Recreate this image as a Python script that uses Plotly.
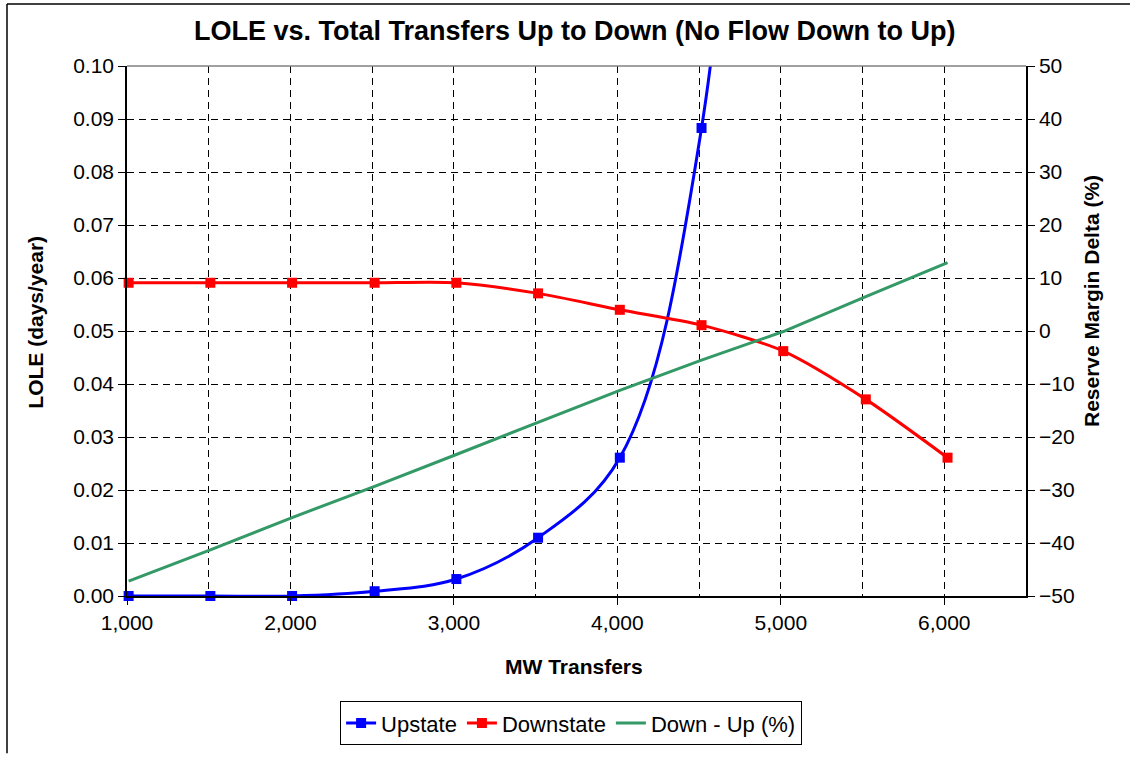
import plotly.graph_objects as go

# ---- data ----
mw_transfers = [1010, 1510, 2010, 2515, 3015, 3515, 4015, 4515, 5015, 5520, 6020]
upstate_mw = [1010, 1510, 2010, 2515, 3015, 3515, 4015, 4515, 5015]
upstate_lole = [0.0000, 0.0000, 0.0000, 0.0009, 0.0032, 0.0110, 0.0261, 0.0883, 0.3000]
downstate_lole = [0.0591, 0.0591, 0.0591, 0.0591, 0.0591, 0.0571, 0.0540, 0.0511, 0.0462, 0.0371, 0.0261]
down_minus_up = [-47.2, -41.3, -35.2, -29.3, -23.3, -17.3, -11.2, -5.5, -0.1, 6.5, 12.9]

x_ticks = [1000, 2000, 3000, 4000, 5000, 6000]
x_tick_text = ["1,000", "2,000", "3,000", "4,000", "5,000", "6,000"]

FONT = "Liberation Sans, Arial, sans-serif"
BLUE = "#0000FF"
RED = "#FF0000"
GREEN = "#339966"

fig = go.Figure()

up_marker_colors = [BLUE] * (len(upstate_mw) - 1) + ["rgba(0,0,0,0)"]
fig.add_trace(go.Scatter(
    x=upstate_mw, y=upstate_lole, name="Upstate",
    mode="lines+markers",
    line=dict(color=BLUE, width=3, shape="spline", smoothing=1.0),
    marker=dict(symbol="square", size=10, color=up_marker_colors),
    cliponaxis=False,
))
fig.add_trace(go.Scatter(
    x=mw_transfers, y=downstate_lole, name="Downstate",
    mode="lines+markers",
    line=dict(color=RED, width=3, shape="spline", smoothing=0.75),
    marker=dict(symbol="square", size=10, color=RED),
    cliponaxis=False,
))
fig.add_trace(go.Scatter(
    x=mw_transfers, y=down_minus_up, name="Down - Up (%)",
    mode="lines", yaxis="y2",
    line=dict(color=GREEN, width=3),
))

grid = dict(showgrid=True, gridcolor="black", gridwidth=1, griddash="7px,5px")

fig.update_layout(
    width=1130, height=757,
    margin=dict(l=127, r=104, t=66, b=152),
    paper_bgcolor="white", plot_bgcolor="white",
    font=dict(family=FONT, size=21, color="black"),
    showlegend=True,
    legend=dict(
        orientation="h", x=0.494, xanchor="center", y=-0.1985, yanchor="top",
        bordercolor="black", borderwidth=1, font=dict(size=22),
        itemsizing="trace", tracegroupgap=0,
    ),
    xaxis=dict(
        range=[1000, 6500], tickvals=x_ticks, ticktext=x_tick_text,
        ticks="outside", ticklen=7, tickcolor="black",
        showline=True, linecolor="black", linewidth=1.5,
        zeroline=False,
        minor=dict(dtick=500, tick0=1000, showgrid=True, gridcolor="black",
                   gridwidth=1, griddash="7px,5px", ticks=""),
        **grid,
    ),
    yaxis=dict(
        range=[0, 0.1], dtick=0.01, tick0=0, tickformat=".2f",
        ticks="outside", ticklen=7, tickcolor="black",
        showline=True, linecolor="black", linewidth=1.5,
        zeroline=False,
        **grid,
    ),
    yaxis2=dict(
        range=[-50, 50], dtick=10, tick0=-50, overlaying="y", side="right",
        ticks="outside", ticklen=7, tickcolor="black",
        showline=True, linecolor="black", linewidth=1.5,
        showgrid=False, zeroline=False,
    ),
    annotations=[
        dict(text="<b>LOLE vs. Total Transfers Up to Down (No Flow Down to Up)</b>",
             xref="paper", yref="paper", x=(574 - 127) / 899, y=(605 - 30) / 539,
             xanchor="center", yanchor="middle", showarrow=False,
             font=dict(size=27, family=FONT)),
        dict(text="<b>MW Transfers</b>",
             xref="paper", yref="paper", x=(574 - 127) / 899, y=(605 - 677) / 539,
             xanchor="center", yanchor="middle", showarrow=False,
             font=dict(size=21, family=FONT)),
        dict(text="<b>LOLE (days/year)</b>", textangle=-90,
             xref="paper", yref="paper", x=(36 - 127) / 899, y=(605 - 327) / 539,
             xanchor="center", yanchor="middle", showarrow=False,
             font=dict(size=21, family=FONT)),
        dict(text="<b>Reserve Margin Delta (%)</b>", textangle=-90,
             xref="paper", yref="paper", x=(1091 - 127) / 899, y=(605 - 305) / 539,
             xanchor="center", yanchor="middle", showarrow=False,
             font=dict(size=21, family=FONT)),
    ],
    shapes=[
        # gray top border of plot area
        dict(type="line", xref="paper", yref="paper", x0=0, x1=1, y0=1, y1=1,
             line=dict(color="#808080", width=1.5)),
        # outer chart frame: only top and left edges fall inside the picture
        dict(type="line", xref="paper", yref="paper",
             x0=(7 - 127) / 899, x1=(1135 - 127) / 899,
             y0=(605 - 3) / 539, y1=(605 - 3) / 539,
             line=dict(color="black", width=1.5), layer="below"),
        dict(type="line", xref="paper", yref="paper",
             x0=(7 - 127) / 899, x1=(7 - 127) / 899,
             y0=(605 - 3) / 539, y1=(605 - 765) / 539,
             line=dict(color="black", width=1.5), layer="below"),
    ],
)

fig.write_html(
    "out.html",
    config={"displayModeBar": False},
    post_script=(
        "document.documentElement.style.margin='0';"
        "document.documentElement.style.overflow='hidden';"
        "document.body.style.margin='0';"
        "document.body.style.overflow='hidden';"
    ),
)
